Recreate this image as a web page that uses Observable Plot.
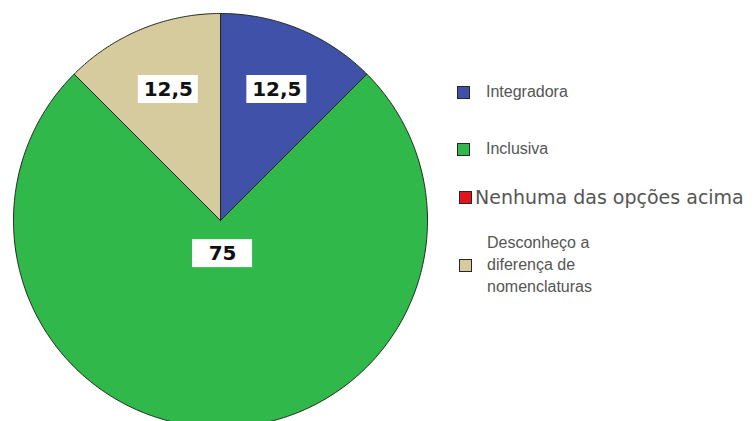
<!DOCTYPE html>
<html>
<head>
<meta charset="utf-8">
<script src="https://cdn.jsdelivr.net/npm/d3@7"></script>
<script src="https://cdn.jsdelivr.net/npm/@observablehq/plot@0.6"></script>
<style>
  html, body { margin: 0; padding: 0; background: #ffffff; }
  #wrap { position: relative; width: 755px; height: 421px; overflow: hidden; }
  #legend { position: absolute; left: 0; top: 0; width: 755px; height: 421px; pointer-events: none; color: #555; }
  .item { position: absolute; display: flex; align-items: center; }
  .sw { width: 11px; height: 11px; border: 1.5px solid #262626; box-sizing: content-box; flex: none; }
  .txt { white-space: pre; }
</style>
</head>
<body>
<div id="wrap"><div id="chart"></div><div id="legend"></div></div>
<script>
// ---- data ----
const categories = ["Integradora", "Inclusiva", "Nenhuma das opções acima", "Desconheço a diferença de nomenclaturas"];
const legendLabels = ["Integradora", "Inclusiva", "Nenhuma das opções acima", "Desconheço a\ndiferença de\nnomenclaturas"];
const values = [12.5, 75, 0, 12.5];
const valueLabels = ["12,5", "75", "", "12,5"];
const colors = ["#3f51a8", "#30b94a", "#e3141b", "#d6cb9d"];

// ---- layout ----
const W = 755, H = 421, CX = 220, CY = 220, R = 207;
const legendCenters = [92, 149, 197, 265];
const legendLefts = [457, 457, 459, 459];
const legendGaps = [16, 16, 3, 15];
const legendFonts = [
  "16px 'Liberation Sans', Arial, sans-serif",
  "16px 'Liberation Sans', Arial, sans-serif",
  "19px 'DejaVu Sans', sans-serif",
  "16px 'Liberation Sans', Arial, sans-serif"
];

const table = categories.map((c, i) => ({cat: c, value: values[i], label: valueLabels[i]}));
const arcs = d3.pie().sort(null).value(d => d.value)(table);

// polygon outline points for each slice, in unit-circle coordinates
const pts = [];
arcs.forEach(a => {
  if (a.endAngle - a.startAngle <= 0) return;
  const n = Math.max(2, Math.ceil((a.endAngle - a.startAngle) / 0.01));
  pts.push({cat: a.data.cat, x: 0, y: 0});
  for (let k = 0; k <= n; k++) {
    const t = a.startAngle + (a.endAngle - a.startAngle) * k / n;
    pts.push({cat: a.data.cat, x: Math.sin(t), y: Math.cos(t)});
  }
  pts.push({cat: a.data.cat, x: 0, y: 0});
});

// label anchor points
const labs = arcs.filter(a => a.data.value > 0).map(a => {
  const m = (a.startAngle + a.endAngle) / 2;
  const k = a.data.value >= 50 ? 0.16 : 0.685;
  return {cat: a.data.cat, label: a.data.label, x: Math.sin(m) * k + 0.01, y: Math.cos(m) * k};
});
const bw = 30 / R, bh = 14 / R;

const chart = Plot.plot({
  width: W, height: H,
  margin: 0,
  style: {background: "transparent"},
  x: {domain: [-CX / R, (W - CX) / R], axis: null},
  y: {domain: [-(H - CY) / R, CY / R], axis: null},
  color: {domain: categories, range: colors},
  marks: [
    Plot.line(pts, {x: "x", y: "y", z: "cat", fill: "cat", stroke: "#1e2a1e", strokeWidth: 1, curve: "linear-closed", clip: true}),
    Plot.rect(labs, {x1: d => d.x - bw, x2: d => d.x + bw, y1: d => d.y - bh, y2: d => d.y + bh, fill: "white"}),
    Plot.text(labs, {x: "x", y: "y", text: "label", fill: "#111", fontSize: 20, fontWeight: "bold", fontFamily: "DejaVu Sans, sans-serif"})
  ]
});
document.getElementById("chart").appendChild(chart);

// ---- legend ----
const lg = document.getElementById("legend");
categories.forEach((c, i) => {
  const it = document.createElement("div");
  it.className = "item";
  const sw = document.createElement("div");
  sw.className = "sw";
  sw.style.background = colors[i];
  sw.style.marginRight = legendGaps[i] + "px";
  const tx = document.createElement("div");
  tx.className = "txt";
  tx.style.font = legendFonts[i];
  tx.style.lineHeight = "22px";
  tx.textContent = legendLabels[i];
  it.appendChild(sw); it.appendChild(tx);
  lg.appendChild(it);
  const h = it.getBoundingClientRect().height;
  it.style.left = legendLefts[i] + "px";
  it.style.top = (legendCenters[i] - h / 2) + "px";
});
</script>
</body>
</html>
